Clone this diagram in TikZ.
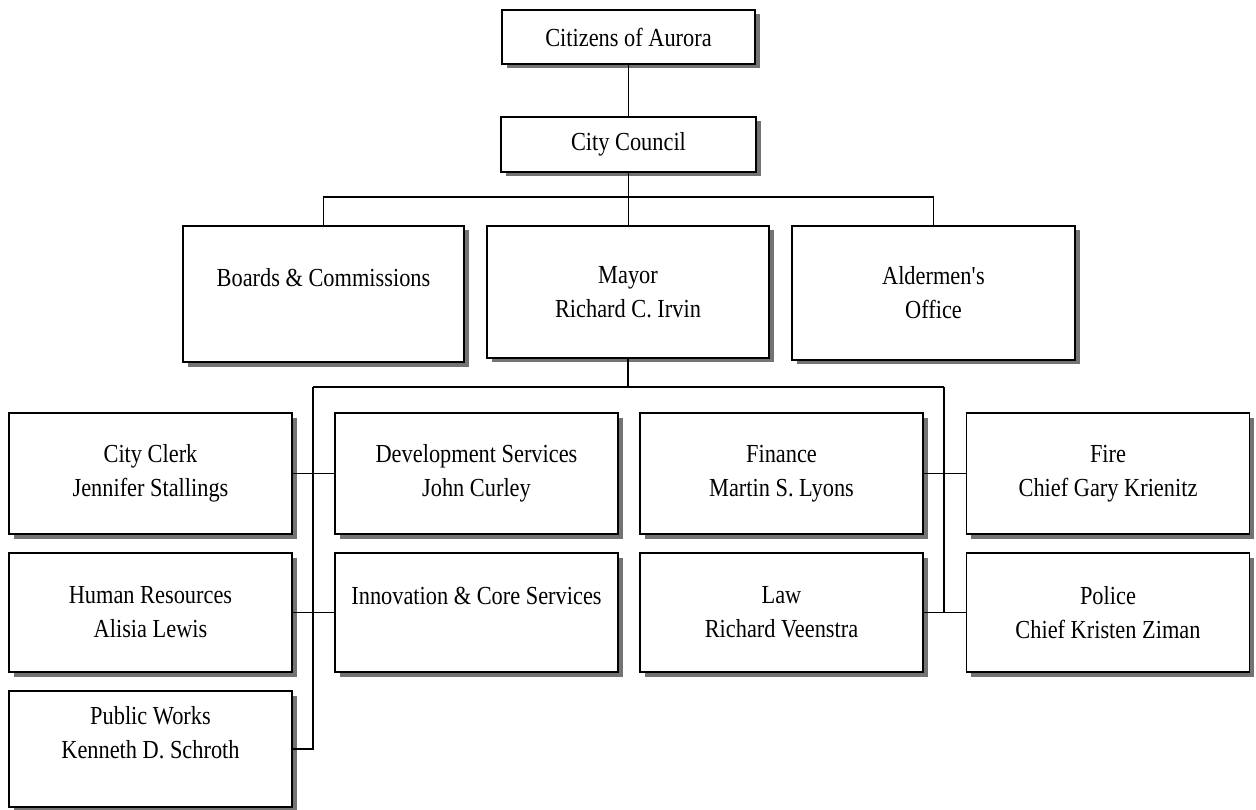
\documentclass[tikz,border=0pt]{standalone}
\usepackage{fontspec}
\setmainfont[FakeStretch=0.86]{Liberation Serif}
\usepackage{pgf, tikz}
\usetikzlibrary{positioning}
\usetikzlibrary{shadows}

\begin{document}
\begin{tikzpicture}[x=1pt, y=-1pt,
	office/.style={draw, line width=1.8pt, fill=white, inner sep=0pt, align=center,
		font=\fontsize{26}{34}\selectfont,
		drop shadow={shadow xshift=4.5pt, shadow yshift=-4.5pt, fill=black!55, opacity=1}},
	link/.style={line width=1.4pt}]
		\useasboundingbox (0,0) rectangle (1256,810);
		
		\node[office, minimum width=253pt, minimum height=54pt] (citizens) at (628.5, 37) {Citizens of Aurora};
		\node[office, minimum width=255pt, minimum height=55pt] (council) at (628.5, 144.5) {City Council};
		
		\node[office, minimum width=281pt, minimum height=136pt] (boards) at (323.5, 294) {Boards \& Commissions\\ \mbox{}};
		\node[office, minimum width=282pt, minimum height=132pt] (mayor) at (628, 292) {Mayor\\Richard C. Irvin};
		\node[office, minimum width=283pt, minimum height=134pt] (aldermen) at (933.5, 293) {Aldermen\textquotesingle s\\Office};
		
		\node[office, minimum width=283pt, minimum height=121pt] (clerk) at (150.5, 473.5) {City Clerk\\Jennifer Stallings};
		\node[office, minimum width=283pt, minimum height=121pt] (devsvc) at (476.5, 473.5) {Development Services\\John Curley};
		\node[office, minimum width=283pt, minimum height=121pt] (finance) at (781.5, 473.5) {Finance\\Martin S. Lyons};
		\node[office, minimum width=283pt, minimum height=121pt] (fire) at (1108, 473.5) {Fire\\Chief Gary Krienitz};
		
		\node[office, minimum width=283pt, minimum height=119pt] (hr) at (150.5, 612.5) {Human Resources\\Alisia Lewis};
		\node[office, minimum width=283pt, minimum height=119pt] (innov) at (476.5, 612.5) {Innovation \& Core Services\\ \mbox{}};
		\node[office, minimum width=283pt, minimum height=119pt] (law) at (781.5, 612.5) {Law\\Richard Veenstra};
		\node[office, minimum width=283pt, minimum height=119pt] (police) at (1108, 612.5) {Police\\Chief Kristen Ziman};
		
		\node[office, minimum width=283pt, minimum height=116pt] (pworks) at (150.5, 749) {Public Works\\Kenneth D. Schroth\\ \mbox{}};
		
		\coordinate (busL) at (313, 387);
		\coordinate (busR) at (944, 387);
		
		\draw[link] (citizens) -- (council);
		\draw[link] (council.south) -- (council.south |- mayor.north);
		\draw[link] (boards.north) -- ++(0,-28) -| (aldermen.north);
		\draw[link] (mayor.south) -- (mayor.south |- busL);
		\draw[link] (busL) -- (busR);
		\draw[link] (busL) -- (busL |- pworks.east) -- (pworks.east);
		\draw[link] (busR) -- (busR |- law.east);
		\foreach \a/\b in {clerk/devsvc, hr/innov, finance/fire, law/police}
			\draw[link] (\a) -- (\b);
	\end{tikzpicture}
\end{document}
